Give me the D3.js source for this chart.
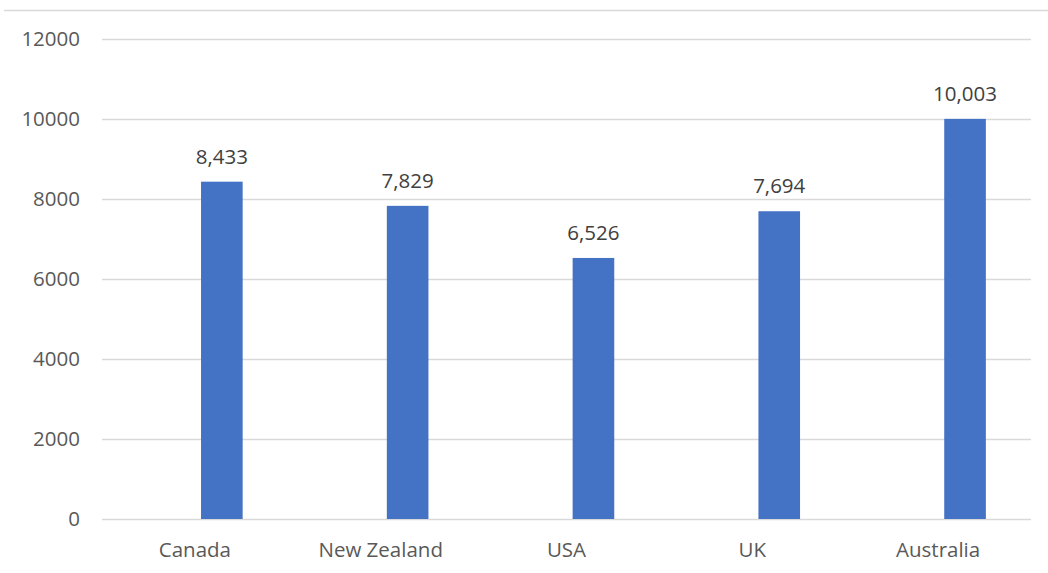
<!DOCTYPE html>
<html>
<head>
<meta charset="utf-8">
<title>Chart</title>
<style>
  body { margin: 0; background: #fff; }
  svg { display: block; }
</style>
</head>
<body>
<svg width="1048" height="573"></svg>
<script src="https://cdn.jsdelivr.net/npm/d3@7/dist/d3.min.js"></script>
<script>
var countries = ['Canada', 'New Zealand', 'USA', 'UK', 'Australia'];
var values = [8433, 7829, 6526, 7694, 10003];
var yTicks = [0, 2000, 4000, 6000, 8000, 10000, 12000];

var svg = d3.select('svg');
var font = "'Open Sans', sans-serif";
var grey = '#595959';

// chart border (only the top edge shows)
svg.append('line')
  .attr('x1', 4).attr('x2', 1048)
  .attr('y1', 10.5).attr('y2', 10.5)
  .style('stroke', '#d9d9d9')
  .style('stroke-width', 1.5);

var x = d3.scaleBand().domain(countries).range([102, 1031]);
var y = d3.scaleLinear().domain([0, 12000]).range([519, 39]);

// gridlines
svg.selectAll('.grid')
  .data(yTicks)
  .enter()
  .append('line')
  .attr('x1', 102).attr('x2', 1031)
  .attr('y1', function(d){ return Math.round(y(d)) + 0.5; })
  .attr('y2', function(d){ return Math.round(y(d)) + 0.5; })
  .style('stroke', '#d9d9d9')
  .style('stroke-width', 1.3);

// y tick labels
svg.selectAll('.ytick')
  .data(yTicks)
  .enter()
  .append('text')
  .text(function(d){ return d; })
  .attr('x', 80)
  .attr('y', function(d){ return y(d); })
  .attr('dy', '0.35em')
  .attr('text-anchor', 'end')
  .attr('font-family', font)
  .attr('font-size', '20.5px')
  .attr('fill', grey);

// bars sit right of the band centre
var bw = x.bandwidth();
var barX = function(d, i){ return x(countries[i]) + bw * 0.533; };
var barW = bw * 0.224;

svg.selectAll('.bar')
  .data(values)
  .enter()
  .append('rect')
  .attr('x', barX)
  .attr('width', barW)
  .attr('y', function(d){ return y(d); })
  .attr('height', function(d){ return y(0) - y(d); })
  .attr('fill', '#4472c4');

// value labels
svg.selectAll('.val')
  .data(values)
  .enter()
  .append('text')
  .text(function(d){ return d3.format(',')(d); })
  .attr('x', function(d, i){ return barX(d, i) + barW / 2; })
  .attr('y', function(d){ return y(d) - 18; })
  .attr('text-anchor', 'middle')
  .attr('font-family', font)
  .attr('font-size', '20.5px')
  .attr('fill', '#404040');

// category labels
svg.selectAll('.cat')
  .data(countries)
  .enter()
  .append('text')
  .text(function(d){ return d; })
  .attr('x', function(d){ return x(d) + bw / 2; })
  .attr('y', 550)
  .attr('dy', '0.35em')
  .attr('text-anchor', 'middle')
  .attr('font-family', font)
  .attr('font-size', '20.5px')
  .attr('fill', grey);
</script>
</body>
</html>
